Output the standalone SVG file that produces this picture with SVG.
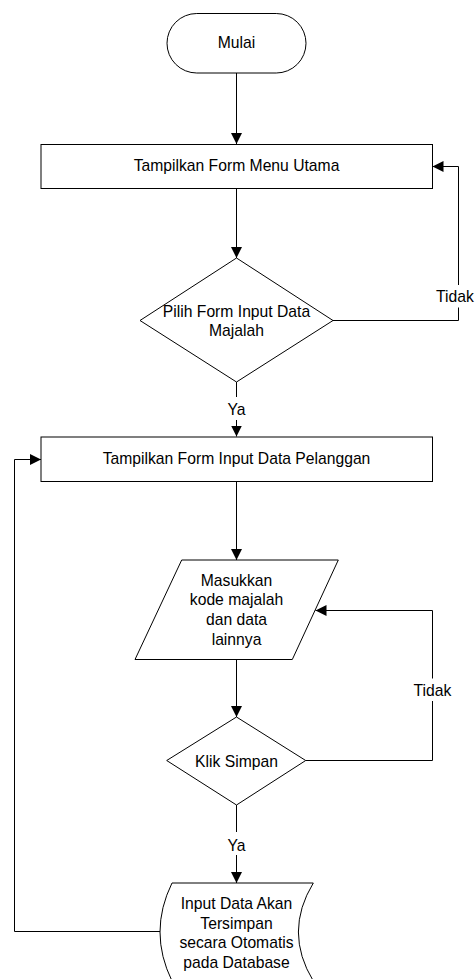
<svg xmlns="http://www.w3.org/2000/svg" width="475" height="979" viewBox="0 0 475 979">
  <style>
    .shape { fill: #ffffff; stroke: #000000; stroke-width: 1; }
    .line { fill: none; stroke: #000000; stroke-width: 1; }
    text { font-family: "Liberation Sans", Arial, sans-serif; font-size: 15.7px; fill: #000000; text-anchor: middle; }
  </style>
  <defs>
    <marker id="arrow" markerUnits="userSpaceOnUse" markerWidth="12" markerHeight="12" refX="11" refY="5.5" orient="auto">
      <path d="M0,0 L11,5.5 L0,11 Z" fill="#000000"/>
    </marker>
  </defs>

  <rect width="475" height="979" fill="#ffffff"/>

  <!-- connectors -->
  <g id="connectors">
    <line class="line" x1="236.5" y1="73" x2="236.5" y2="144" marker-end="url(#arrow)"/>
    <line class="line" x1="236.5" y1="188.5" x2="236.5" y2="258" marker-end="url(#arrow)"/>
    <!-- Tidak: back to main menu -->
    <polyline class="line" points="333,320.5 458.5,320.5 458.5,307.5"/>
    <polyline class="line" points="458.5,285 458.5,166.5 432.5,166.5" marker-end="url(#arrow)"/>
    <text x="455" y="302">Tidak</text>
    <!-- Ya: to customer form -->
    <line class="line" x1="236.5" y1="382" x2="236.5" y2="397"/>
    <text x="236.5" y="415">Ya</text>
    <line class="line" x1="236.5" y1="420" x2="236.5" y2="436.5" marker-end="url(#arrow)"/>
    <line class="line" x1="236.5" y1="481.5" x2="236.5" y2="560" marker-end="url(#arrow)"/>
    <line class="line" x1="236.5" y1="659.5" x2="236.5" y2="717" marker-end="url(#arrow)"/>
    <!-- Tidak: back to input -->
    <polyline class="line" points="305.7,760.5 432.5,760.5 432.5,701"/>
    <polyline class="line" points="432.5,678.5 432.5,610.5 315.5,610.5" marker-end="url(#arrow)"/>
    <text x="432.5" y="695.5">Tidak</text>
    <!-- Ya: to storage -->
    <line class="line" x1="236.5" y1="805" x2="236.5" y2="832"/>
    <text x="236.5" y="851">Ya</text>
    <line class="line" x1="236.5" y1="855" x2="236.5" y2="883" marker-end="url(#arrow)"/>
    <!-- loop back to customer form -->
    <polyline class="line" points="160,931.5 14.5,931.5 14.5,459.5 41,459.5" marker-end="url(#arrow)"/>
  </g>

  <g id="mulai">
    <rect class="shape" x="167" y="13.5" width="139" height="59.5" rx="29.75" ry="29.75"/>
    <text x="236.5" y="48.3">Mulai</text>
  </g>

  <g id="menu-utama">
    <rect class="shape" x="41" y="144.5" width="391.5" height="44"/>
    <text x="236.5" y="170.7">Tampilkan Form Menu Utama</text>
  </g>

  <g id="pilih-form">
    <polygon class="shape" points="236.5,258 333,320.5 236.5,382 140,320.5"/>
    <text x="236.5" y="316.7">Pilih Form Input Data</text>
    <text x="236.5" y="335.7">Majalah</text>
  </g>

  <g id="form-pelanggan">
    <rect class="shape" x="41" y="437" width="391.5" height="44.5"/>
    <text x="236.5" y="464.4">Tampilkan Form Input Data Pelanggan</text>
  </g>

  <g id="masukkan-data">
    <polygon class="shape" points="181.7,560 338.3,560 292.3,659.5 135,659.5"/>
    <text x="236.5" y="585.8">Masukkan</text>
    <text x="236.5" y="605.4">kode majalah</text>
    <text x="236.5" y="625">dan data</text>
    <text x="236.5" y="644.5">lainnya</text>
  </g>

  <g id="klik-simpan">
    <polygon class="shape" points="236.5,717 305.7,760.5 236.5,805 166.7,760.5"/>
    <text x="236.5" y="766.6">Klik Simpan</text>
  </g>

  <g id="simpan-database">
    <path class="shape" d="M172,883 L313.3,883 Q283.5,932 313.3,981 L172,981 Q148,932 172,883 Z"/>
    <text x="236.5" y="909.3">Input Data Akan</text>
    <text x="236.5" y="928.8">Tersimpan</text>
    <text x="236.5" y="948.3">secara Otomatis</text>
    <text x="236.5" y="967.7">pada Database</text>
  </g>
</svg>
